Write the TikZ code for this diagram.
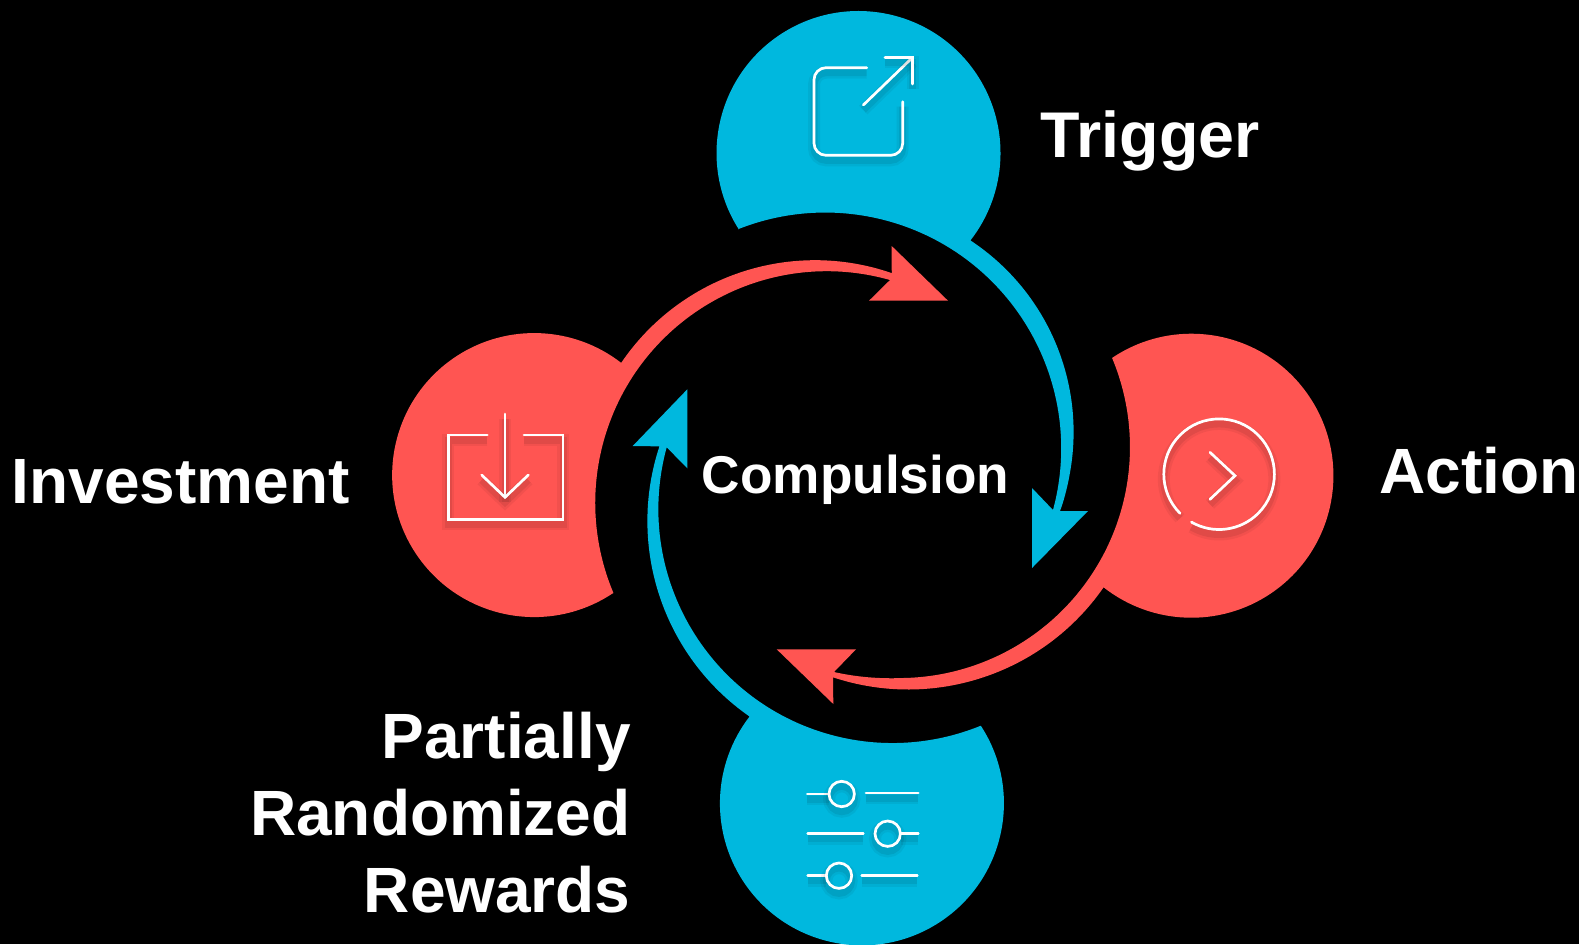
\documentclass[tikz,border=0pt]{standalone}
\usepackage{fontspec}
\setmainfont{Liberation Sans}
\definecolor{ringblue}{RGB}{0,184,222}
\definecolor{ringred}{RGB}{255,85,82}
\begin{document}
\begin{tikzpicture} [x=0.5pt,y=-0.5pt,thick]
    \tikzset {
      caption/.style={text=white,inner sep=0pt,font=\fontsize{32}{38.5}\selectfont\bfseries},
      icon/.style={draw=white,line width=1.35pt,line cap=round,
        preaction={draw=black,draw opacity=0.05,line width=6pt,transform canvas={yshift=-2.5pt}},
        preaction={draw=black,draw opacity=0.07,line width=3.5pt,transform canvas={yshift=-2.5pt}}}
    }
    \useasboundingbox (0,0) rectangle (1579,944);
    \fill [black] (0,0) rectangle (1579,944);

    \fill [ringblue] (738.9,229.5) arc [start angle=147.4,end angle=398,radius=142]
      arc [start angle=-56.6,end angle=10,radius=229.5]
      .. controls (1067,490) and (1063,503) .. (1060,511)
      -- (1088,511) -- (1032,568) -- (1032,488) -- (1053,510)
      arc [start angle=15.1,end angle=-111.5,radius=236] -- cycle;
    \fill [ringred] (1112,358) arc [start angle=236,end angle=488.2,radius=142]
      arc [start angle=34.8,end angle=108.4,radius=238]
      -- (833.3,704) -- (776.7,649.3) -- (856,649.3) -- (834,672)
      .. controls (856,677) and (880,679) .. (903,678)
      arc [start angle=89,end angle=-22.7,radius=231] -- cycle;
    \fill [ringblue] (981,726) arc [start angle=-33,end angle=217.7,radius=142]
      arc [start angle=124.8,end angle=198.3,radius=238]
      -- (632.7,446) -- (687.3,389.3) -- (687.3,468.3) -- (666.7,447.3)
      arc [start angle=195.3,end angle=67.9,radius=234] -- cycle;
    \fill [ringred] (611.7,594) arc [start angle=56.9,end angle=307.8,radius=142]
      arc [start angle=214.2,end angle=289.1,radius=234.4]
      -- (891.7,246) -- (948,300.7) -- (869,300.7) -- (890,280)
      arc [start angle=-74.2,end angle=-202.9,radius=231.7] -- cycle;

    \draw [icon] (866.7,67.7) -- (826,67.7) arc [start angle=270,end angle=180,radius=12]
      -- (814,143.3) arc [start angle=180,end angle=90,radius=12]
      -- (890.7,155.3) arc [start angle=90,end angle=0,radius=12] -- (902.7,101.7);
    \draw [icon] (863.3,105) -- (912.7,57.3);
    \draw [icon] (885,57.3) -- (912.7,57.3) -- (912.7,84);

    \draw [icon] (487.3,435) -- (448.3,435) -- (448.3,519.3) -- (563,519.3) -- (563,435) -- (524,435);
    \draw [icon] (505,414) -- (505,497.3);
    \draw [icon] (481.7,475) -- (505,497.3) -- (528.3,475);

    \draw [icon] (1180,513.3) arc [start angle=135,end angle=480,radius=55.3];
    \draw [icon] (1210,452.3) -- (1235,475.7) -- (1210,499.3);

    \draw [icon] (807.3,794) -- (829,794);
    \draw [icon] (841.7,794) circle (12.7);
    \draw [icon] (866,793) -- (918.3,793);
    \draw [icon] (807.7,833.7) -- (863.3,833.7);
    \draw [icon] (887.7,833.7) circle (12.7);
    \draw [icon] (901,833.7) -- (918.3,833.7);
    \draw [icon] (807.7,875.7) -- (826.3,875.7);
    \draw [icon] (839,875.7) circle (12.7);
    \draw [icon] (861.7,875.7) -- (917.3,875.7);

    \node [caption,anchor=base west,font=\fontsize{32.3}{38.5}\selectfont\bfseries] (trigger) at (1040,157) {Trigger};
    \node [caption,anchor=base west] (action) at (1378.6,493.5) {Action};
    \node [caption,anchor=base west] (investment) at (11,503.5) {Investment};
    \node [caption,anchor=base west,font=\fontsize{26.6}{32}\selectfont\bfseries] (compulsion) at (701,493) {Compulsion};
    \node [caption,anchor=north east,align=right] (rewards) at (631.4,711) {Partially\\Randomized\\Rewards};
\end{tikzpicture}
\end{document}
